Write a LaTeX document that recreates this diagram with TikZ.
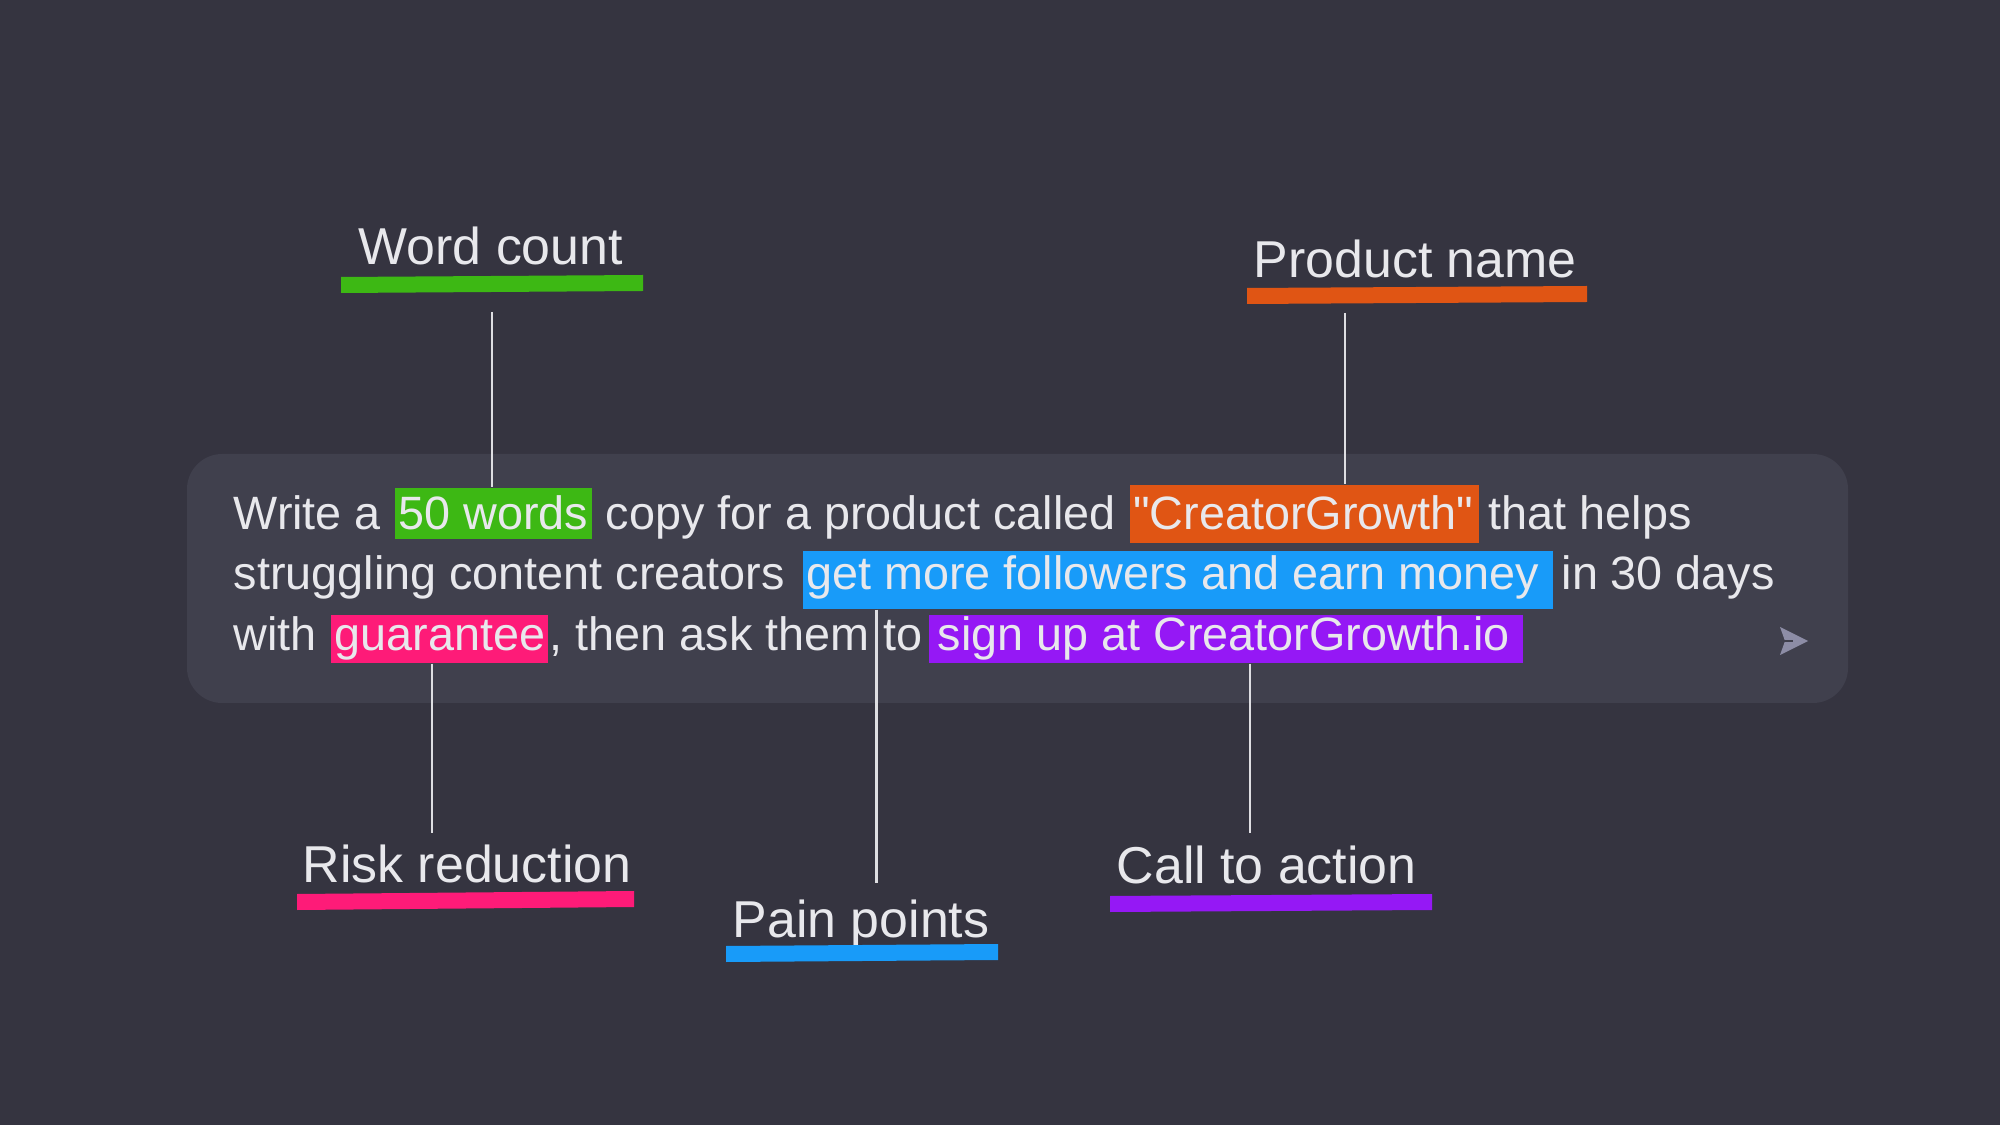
\documentclass[tikz,border=0pt]{standalone}
\usepackage{fontspec}
\setmainfont{Liberation Sans}
\newfontfamily\plainsans{Liberation Sans}
\usetikzlibrary{calc}
\definecolor{bgc}{RGB}{53,52,64}
\definecolor{boxc}{RGB}{64,64,77}
\definecolor{tc}{RGB}{232,232,236}
\definecolor{lc}{RGB}{222,222,226}
\definecolor{iconc}{RGB}{141,141,166}
\definecolor{hgreen}{RGB}{61,184,20}
\definecolor{horange}{RGB}{224,85,20}
\definecolor{hblue}{RGB}{24,155,249}
\definecolor{hpink}{RGB}{254,27,120}
\definecolor{hpurple}{RGB}{149,24,245}
\def\mysp{3.7pt}
\begin{document}
\begin{tikzpicture}[x=0.01cm,y=-0.01cm,
  txt/.style={inner sep=0pt, text=tc, font=\plainsans\fontsize{13.3}{16}\selectfont, anchor=base west},
  hl/.style={txt, inner xsep=0.9pt, inner ysep=0pt},
  lbl/.style={inner sep=0pt, text=tc, font=\plainsans\fontsize{14.75}{17}\selectfont, anchor=base west},
  conn/.style={draw=lc, line width=0.75pt},
]
\useasboundingbox (0,0) rectangle (2000,1125);
\fill[bgc] (0,0) rectangle (2000,1125);
\fill[boxc, rounded corners=10pt] (187,454) rectangle (1848,703);

% line 1
\node[txt] (w1) at (233,530) {Write a};
\node[hl, fill=hgreen, text height=11.95pt, text depth=2.56pt] (wc) at ([xshift=\mysp]w1.base east) {50 words};
\node[txt] (w2) at ([xshift=\mysp]wc.base east) {copy for a product called};
\node[hl, fill=horange, text height=12.8pt, text depth=3.7pt] (pn) at ([xshift=\mysp]w2.base east) {"CreatorGrowth"\kern0.8pt};
\node[txt] (w3) at ([xshift=2.4pt]pn.base east) {that helps};
% line 2
\node[txt] (s1) at (233,590) {struggling content creators};
\node[hl, fill=hblue, text height=11.1pt, text depth=5.4pt] (pp) at ([xshift=4.8pt]s1.base east) {get more followers and earn money\kern3pt};
\node[txt] (s2) at ([xshift=2pt]pp.base east) {in 30 days};
% line 3
\node[txt] (t1) at (233,650) {with};
\node[hl, fill=hpink, text height=9.96pt, text depth=3.7pt] (rr) at ([xshift=\mysp]t1.base east) {guarantee};
\node[txt] (t2) at (rr.base east) {, then ask them};
\node[txt] (t3) at ([xshift=\mysp]t2.base east) {to};
\node[hl, fill=hpurple, text height=9.96pt, text depth=3.7pt] (ca) at ([xshift=1.4pt]t3.base east) {\kern1.5pt sign up at CreatorGrowth.io\kern3pt};

% send icon
\fill[iconc] (1780,627) -- (1808,641) -- (1780,655) -- (1785,641) -- cycle;
\draw[boxc, line width=0.5pt] (1783,641) -- (1793,641);

% labels
\node[lbl] (Lwc) at (358,265) {Word count};
\fill[hgreen] (341,277) -- (643,275) -- (643,291) -- (341,293) -- cycle;
\node[lbl] (Lpn) at (1253,278) {Product name};
\fill[horange] (1247,288) -- (1587,286) -- (1587,302) -- (1247,304) -- cycle;
\node[lbl] (Lrr) at (302,882) {Risk reduction};
\fill[hpink] (297,894) -- (634,891) -- (634,907) -- (297,910) -- cycle;
\node[lbl] (Lpp) at (732,937) {Pain points};
\fill[hblue] (726,946) -- (998,944) -- (998,960) -- (726,962) -- cycle;
\node[lbl] (Lca) at (1116,883) {Call to action};
\fill[hpurple] (1110,896) -- (1432,894) -- (1432,910) -- (1110,912) -- cycle;

% connectors
\coordinate (wc-end) at (492,312);
\coordinate (pn-end) at (1345,313);
\coordinate (rr-end) at (432,833);
\coordinate (pp-end) at (872,883);
\coordinate (ca-end) at (1250,833);
\coordinate (pp-x) at ($(t2.base east)!0.5!(t3.base west)$);
\draw[conn] (wc-end) -- (wc-end |- wc.north);
\draw[conn] (pn-end) -- (pn-end |- pn.north);
\draw[conn] (rr-end |- rr.south) -- (rr-end);
\draw[conn] (pp-x |- pp.south) -- (pp-x |- pp-end);
\draw[conn] (ca-end |- ca.south) -- (ca-end);
\end{tikzpicture}
\end{document}
